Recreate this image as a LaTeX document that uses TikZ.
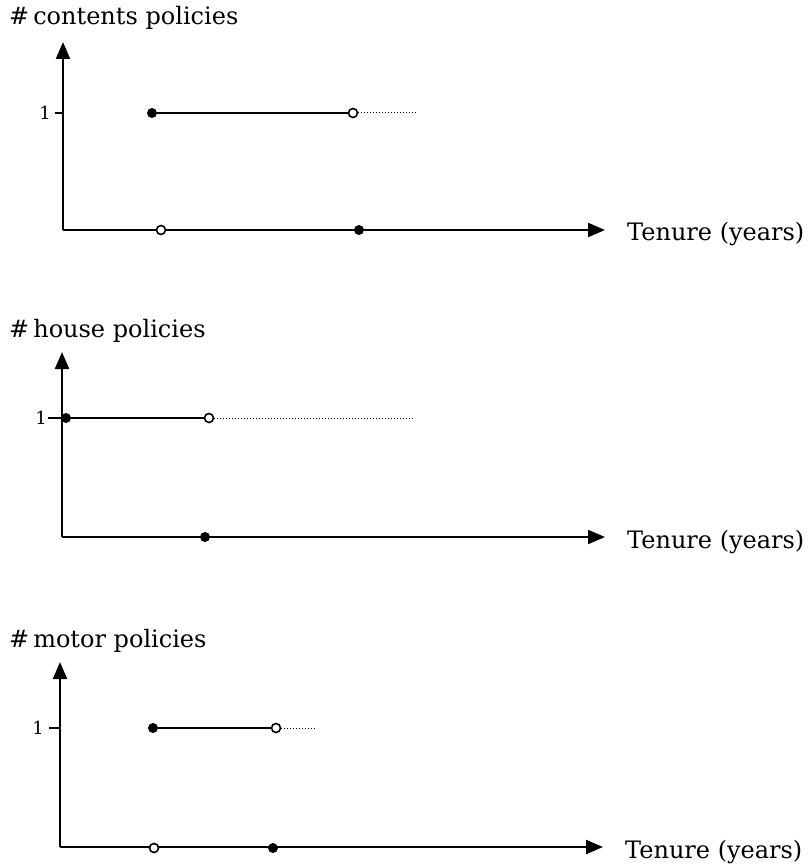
\documentclass[tikz,border=0pt]{standalone}
\usepackage{fontspec}
\setmainfont{DejaVu Serif}
\usepackage{tikz}
\usetikzlibrary{arrows.meta,positioning}

\begin{document}
\begin{tikzpicture}
		[x=1pt,y=-1pt,
		axis/.style ={draw, line width=2.2pt, -{Triangle[length=17pt,width=14pt]}},
		stepline/.style ={draw, line width=2.2pt},
		tail/.style ={draw, line width=1pt, dotted},
		tick/.style ={draw, line width=1.5pt},
		fdot/.style ={circle, fill=black, inner sep=0pt, minimum size=10pt},
		odot/.style ={circle, draw=black, line width=1.6pt, fill=white, inner sep=0pt, minimum size=9pt},
		title/.style ={anchor=base west, inner sep=0pt, font=\fontsize{24}{28}\selectfont},
		lbl/.style ={anchor=base west, inner sep=0pt, font=\fontsize{24}{28}\selectfont},
		one/.style ={anchor=east, inner sep=0pt, font=\fontsize{18}{20}\selectfont},
		]
		\useasboundingbox (0,0) rectangle (810,866);

		% contents
		\draw (9,25) node[title] (T1) {\#\,contents policies};
		\coordinate (O1) at (63,230);
		\coordinate (Y1) at (63,42);
		\coordinate (X1) at (605,230);
		\coordinate (K1) at (55,113);
		\coordinate (E1) at (63,113);
		\coordinate (D1) at (418,113);
		\draw (K1) node[one, xshift=-4pt] (N1) {1};
		\draw (627,241) node[lbl] (L1) {Tenure (years)};
		\path (O1) edge[axis] (Y1) (O1) edge[axis] (X1);
		\path[tick] (K1) edge (E1);
		\draw (152,113) node[fdot] (A1) {};
		\draw (353,113) node[odot] (B1) {};
		\draw (161,230) node[odot] (P1) {};
		\draw (359,230) node[fdot] (Q1) {};
		\path[stepline] (A1) edge (B1);
		\path[tail] (B1) edge (D1);

		% house
		\draw (9,337) node[title] (T2) {\#\,house policies};
		\coordinate (O2) at (62,537);
		\coordinate (Y2) at (62,352);
		\coordinate (X2) at (605,537);
		\coordinate (K2) at (48,418);
		\coordinate (E2) at (62,418);
		\coordinate (D2) at (415,418);
		\draw (K2) node[one, xshift=-1pt] (N2) {1};
		\draw (627,548) node[lbl] (L2) {Tenure (years)};
		\path (O2) edge[axis] (Y2) (O2) edge[axis] (X2);
		\path[tick] (K2) edge (E2);
		\draw (66,418) node[fdot] (A2) {};
		\draw (209,418) node[odot] (B2) {};
		\draw (205,537) node[fdot] (Q2) {};
		\path[stepline] (A2) edge (B2);
		\path[tail] (B2) edge (D2);

		% motor
		\draw (9,647) node[title] (T3) {\#\,motor policies};
		\coordinate (O3) at (60,847);
		\coordinate (Y3) at (60,662);
		\coordinate (X3) at (603,847);
		\coordinate (K3) at (49,728);
		\coordinate (E3) at (60,728);
		\coordinate (D3) at (317,728);
		\draw (K3) node[one, xshift=-5pt] (N3) {1};
		\draw (625,858) node[lbl] (L3) {Tenure (years)};
		\path (O3) edge[axis] (Y3) (O3) edge[axis] (X3);
		\path[tick] (K3) edge (E3);
		\draw (153,728) node[fdot] (A3) {};
		\draw (276,728) node[odot] (B3) {};
		\draw (154,848) node[odot] (P3) {};
		\draw (273,848) node[fdot] (Q3) {};
		\path[stepline] (A3) edge (B3);
		\path[tail] (B3) edge (D3);

	\end{tikzpicture}
\end{document}
